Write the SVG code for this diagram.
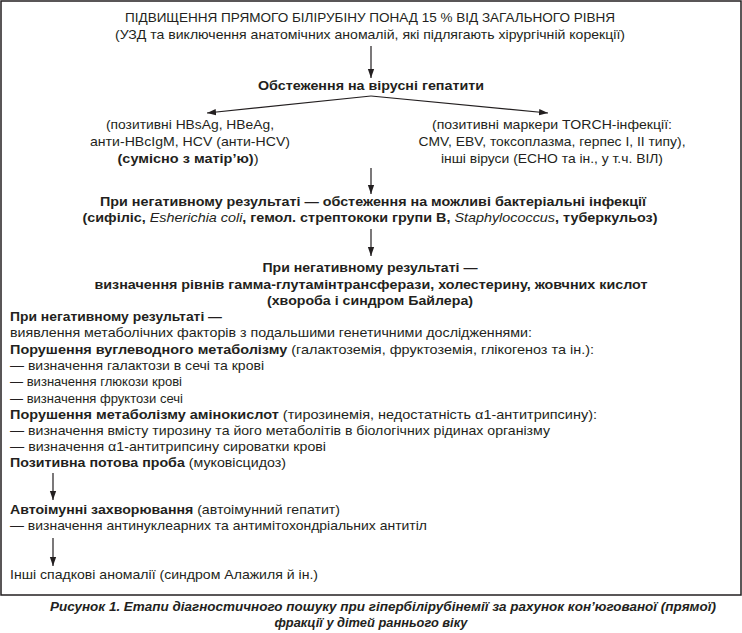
<svg xmlns="http://www.w3.org/2000/svg" width="742" height="633" viewBox="0 0 742 633">
<defs>
<marker id="ah" viewBox="0 0 10 10" refX="10" refY="5" markerWidth="9" markerHeight="9" markerUnits="userSpaceOnUse" orient="auto">
<path d="M0,1.5 L10,5 L0,8.5 z" fill="#231f20"/>
</marker>
<style>
text{font-family:"Liberation Sans",Arial,sans-serif;font-size:13.5px;fill:#231f20}
.c{text-anchor:middle}
.b{font-weight:bold}
.i{font-style:italic;font-weight:normal}
.n{font-weight:normal}
.cap{font-weight:bold;font-style:italic}
.ln{stroke:#231f20;stroke-width:1.2;fill:none}
</style>
</defs>
<rect x="1" y="1" width="740" height="594" fill="#fff" stroke="#231f20" stroke-width="1.5"/>
<g id="connectors">
<line class="ln" x1="371" y1="46" x2="371" y2="78" marker-end="url(#ah)"/>
<line class="ln" x1="371" y1="96" x2="207" y2="113" marker-end="url(#ah)"/>
<line class="ln" x1="371" y1="96" x2="548" y2="113" marker-end="url(#ah)"/>
<line class="ln" x1="371" y1="168" x2="371" y2="194" marker-end="url(#ah)"/>
<line class="ln" x1="371" y1="229" x2="371" y2="256" marker-end="url(#ah)"/>
<line class="ln" x1="53" y1="473" x2="53" y2="500" marker-end="url(#ah)"/>
<line class="ln" x1="53" y1="538" x2="53" y2="566" marker-end="url(#ah)"/>
</g>
<g id="n-start">
<text class="c" x="370" y="22" textLength="490" lengthAdjust="spacingAndGlyphs">ПІДВИЩЕННЯ ПРЯМОГО БІЛІРУБІНУ ПОНАД 15 % ВІД ЗАГАЛЬНОГО РІВНЯ</text>
<text class="c" x="370" y="39" textLength="510" lengthAdjust="spacingAndGlyphs">(УЗД та виключення анатомічних аномалій, які підлягають хірургічній корекції)</text>
</g>
<g id="n-viral">
<text class="c b" x="371" y="90" textLength="226" lengthAdjust="spacingAndGlyphs">Обстеження на вірусні гепатити</text>
</g>
<g id="n-hep">
<text class="c" x="190" y="129" textLength="168" lengthAdjust="spacingAndGlyphs">(позитивні HBsAg, HBeAg,</text>
<text class="c" x="190" y="146" textLength="200" lengthAdjust="spacingAndGlyphs">анти-HBcIgM, HCV (анти-HCV)</text>
<text class="c" x="188" y="163" textLength="141" lengthAdjust="spacingAndGlyphs"><tspan class="b">(сумісно з матір’ю)</tspan>)</text>
</g>
<g id="n-torch">
<text class="c" x="552" y="129" textLength="240" lengthAdjust="spacingAndGlyphs">(позитивні маркери TORCH-інфекції:</text>
<text class="c" x="552" y="146" textLength="267" lengthAdjust="spacingAndGlyphs">CMV, EBV, токсоплазма, герпес I, II типу),</text>
<text class="c" x="552" y="163" textLength="222" lengthAdjust="spacingAndGlyphs">інші віруси (ЕСНО та ін., у т.ч. ВІЛ)</text>
</g>
<g id="n-bact">
<text class="c b" x="373" y="206" textLength="546" lengthAdjust="spacingAndGlyphs">При негативному результаті — обстеження на можливі бактеріальні інфекції</text>
<text class="c b" x="370" y="222" textLength="575" lengthAdjust="spacingAndGlyphs">(сифіліс, <tspan class="i">Esherichia coli</tspan>, гемол. стрептококи групи В, <tspan class="i">Staphylococcus</tspan>, туберкульоз)</text>
</g>
<g id="n-ggt">
<text class="c b" x="370" y="272" textLength="215" lengthAdjust="spacingAndGlyphs">При негативному результаті —</text>
<text class="c b" x="371" y="289" textLength="553" lengthAdjust="spacingAndGlyphs">визначення рівнів гамма-глутамінтрансферази, холестерину, жовчних кислот</text>
<text class="c b" x="370" y="305" textLength="206" lengthAdjust="spacingAndGlyphs">(хвороба і синдром Байлера)</text>
</g>
<g id="n-metab">
<text class="b" x="10" y="321" textLength="212" lengthAdjust="spacingAndGlyphs">При негативному результаті —</text>
<text x="10" y="337" textLength="522" lengthAdjust="spacingAndGlyphs">виявлення метаболічних факторів з подальшими генетичними дослідженнями:</text>
<text x="10" y="354" textLength="584" lengthAdjust="spacingAndGlyphs"><tspan class="b">Порушення вуглеводного метаболізму</tspan> (галактоземія, фруктоземія, глікогеноз та ін.):</text>
<text x="10" y="370" textLength="254" lengthAdjust="spacingAndGlyphs">— визначення галактози в сечі та крові</text>
<text x="10" y="386" textLength="172" lengthAdjust="spacingAndGlyphs">— визначення глюкози крові</text>
<text x="10" y="403" textLength="173" lengthAdjust="spacingAndGlyphs">— визначення фруктози сечі</text>
<text x="10" y="419" textLength="587" lengthAdjust="spacingAndGlyphs"><tspan class="b">Порушення метаболізму амінокислот</tspan> (тирозинемія, недостатність α1-антитрипсину):</text>
<text x="10" y="435" textLength="540" lengthAdjust="spacingAndGlyphs">— визначення вмісту тирозину та його метаболітів в біологічних рідинах організму</text>
<text x="10" y="451" textLength="316" lengthAdjust="spacingAndGlyphs">— визначення α1-антитрипсину сироватки крові</text>
<text x="10" y="467" textLength="276" lengthAdjust="spacingAndGlyphs"><tspan class="b">Позитивна потова проба</tspan> (муковісцидоз)</text>
</g>
<g id="n-auto">
<text x="10" y="514" textLength="330" lengthAdjust="spacingAndGlyphs"><tspan class="b">Автоімунні захворювання</tspan> (автоімунний гепатит)</text>
<text x="10" y="530" textLength="417" lengthAdjust="spacingAndGlyphs">— визначення антинуклеарних та антимітохондріальних антитіл</text>
</g>
<g id="n-other">
<text x="10" y="579" textLength="308" lengthAdjust="spacingAndGlyphs">Інші спадкові аномалії (синдром Алажиля й ін.)</text>
</g>
<g id="caption">
<text class="c cap" x="383" y="611" textLength="666" lengthAdjust="spacingAndGlyphs">Рисунок 1. Етапи діагностичного пошуку при гіпербілірубінемії за рахунок кон’югованої (прямої)</text>
<text class="c cap" x="371" y="627" textLength="193" lengthAdjust="spacingAndGlyphs">фракції у дітей раннього віку</text>
</g>
</svg>
